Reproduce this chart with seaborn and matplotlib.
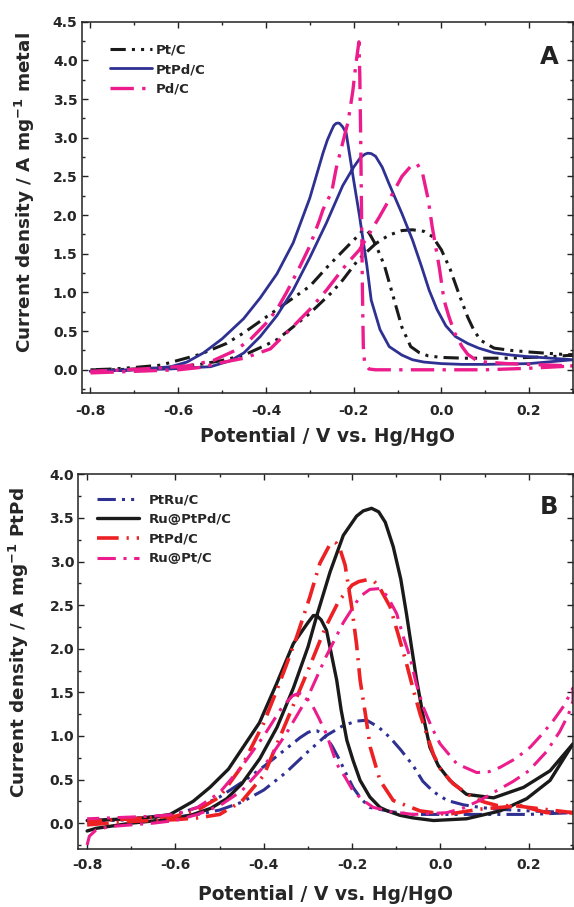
import numpy as np
import pandas as pd
import matplotlib
matplotlib.use("Agg")
import matplotlib.pyplot as plt
import seaborn as sns
from matplotlib.ticker import MultipleLocator, FormatStrFormatter

# ---- panel A: forward scan followed by backward scan ----
a_ptc_x = [-0.80, -0.75, -0.70, -0.65, -0.60, -0.55, -0.50, -0.45, -0.40, -0.375, -0.35, -0.30, -0.25, -0.225,
           -0.19, -0.15, -0.12, -0.09, -0.066, -0.04, -0.02, 0.00, 0.02, 0.04, 0.06, 0.075, 0.09, 0.12, 0.16, 0.20,
           0.25, 0.30,
           0.25, 0.20, 0.15, 0.10, 0.05, 0.00, -0.03, -0.05, -0.07, -0.09, -0.11, -0.13, -0.15, -0.165, -0.172,
           -0.18, -0.187, -0.21, -0.26, -0.30, -0.375, -0.45, -0.49, -0.55, -0.64, -0.70, -0.75, -0.80]
a_ptc_y = [0.00, 0.00, 0.01, 0.02, 0.04, 0.07, 0.12, 0.19, 0.32, 0.39, 0.50, 0.73, 1.00, 1.16,
           1.42, 1.63, 1.74, 1.80, 1.81, 1.79, 1.72, 1.55, 1.30, 0.98, 0.68, 0.50, 0.38, 0.28, 0.25, 0.23,
           0.21, 0.19,
           0.17, 0.16, 0.15, 0.15, 0.15, 0.16, 0.18, 0.22, 0.30, 0.55, 0.95, 1.35, 1.62, 1.77, 1.81,
           1.80, 1.75, 1.62, 1.33, 1.08, 0.78, 0.48, 0.34, 0.20, 0.06, 0.03, 0.01, 0.00]

a_ptpd_x = [-0.80, -0.70, -0.62, -0.56, -0.526, -0.48, -0.45, -0.413, -0.375, -0.338, -0.30, -0.262, -0.225, -0.20,
            -0.185, -0.175, -0.168, -0.16, -0.15, -0.135, -0.119, -0.09, -0.066, -0.045, -0.028, -0.01, 0.01, 0.032,
            0.06, 0.085, 0.12, 0.16, 0.198, 0.25, 0.30,
            0.20, 0.10, 0.047, 0.00, -0.04, -0.066, -0.09, -0.119, -0.14, -0.16, -0.17, -0.187, -0.20, -0.217,
            -0.225, -0.232, -0.236, -0.24, -0.245, -0.25, -0.26, -0.27, -0.30, -0.338, -0.375, -0.413, -0.451,
            -0.50, -0.542, -0.58, -0.617, -0.70, -0.80]
a_ptpd_y = [-0.02, 0.00, 0.01, 0.03, 0.04, 0.12, 0.22, 0.43, 0.70, 1.03, 1.45, 1.90, 2.38, 2.62,
            2.74, 2.785, 2.80, 2.795, 2.76, 2.62, 2.40, 2.02, 1.68, 1.33, 1.03, 0.78, 0.57, 0.43,
            0.34, 0.28, 0.22, 0.19, 0.17, 0.15, 0.13,
            0.08, 0.07, 0.07, 0.08, 0.10, 0.13, 0.19, 0.30, 0.52, 0.90, 1.35, 2.00, 2.45, 3.06,
            3.14, 3.185, 3.19, 3.185, 3.16, 3.10, 2.97, 2.80, 2.22, 1.64, 1.24, 0.93, 0.66,
            0.40, 0.22, 0.10, 0.04, 0.00, -0.02]

a_pdc_x = [-0.80, -0.75, -0.70, -0.65, -0.60, -0.55, -0.504, -0.45, -0.39, -0.338, -0.30, -0.262, -0.217, -0.187,
           -0.16, -0.141, -0.119, -0.09, -0.07, -0.062, -0.055, -0.043, -0.03, -0.021, -0.005, 0.006, 0.017, 0.03,
           0.047, 0.06, 0.078, 0.10, 0.15, 0.20, 0.25, 0.30,
           0.20, 0.10, 0.00, -0.10, -0.15, -0.165, -0.175, -0.178, -0.180, -0.182, -0.184, -0.186, -0.188,
           -0.195, -0.202, -0.213, -0.232, -0.24, -0.25, -0.27, -0.277, -0.30, -0.323, -0.353, -0.375, -0.40,
           -0.436, -0.47, -0.52, -0.58, -0.65, -0.72, -0.80]
a_pdc_y = [-0.04, -0.03, -0.02, -0.01, 0.00, 0.03, 0.09, 0.15, 0.27, 0.56, 0.78, 1.03, 1.36, 1.55,
           1.80, 1.98, 2.20, 2.50, 2.63, 2.66, 2.66, 2.54, 2.20, 1.85, 1.33, 0.90, 0.69, 0.48,
           0.30, 0.20, 0.13, 0.10, 0.08, 0.07, 0.06, 0.05,
           0.02, 0.00, 0.00, 0.00, 0.00, 0.01, 0.08, 0.30, 1.00, 2.00, 3.00, 3.80, 4.24,
           3.95, 3.60, 3.20, 2.78, 2.60, 2.30, 2.07, 1.95, 1.60, 1.33, 1.00, 0.78, 0.60,
           0.39, 0.25, 0.12, 0.05, 0.02, 0.00, -0.02]

# ---- panel B ----
b_ptru_x = [-0.80, -0.70, -0.60, -0.55, -0.50, -0.45, -0.40, -0.35, -0.30, -0.26, -0.22, -0.19, -0.167, -0.14,
            -0.114, -0.09, -0.062, -0.04, -0.016, 0.015, 0.052, 0.09, 0.127, 0.203, 0.30,
            0.20, 0.10, 0.00, -0.062, -0.11, -0.16, -0.18, -0.198, -0.213, -0.228, -0.245, -0.258, -0.27, -0.28,
            -0.29, -0.30, -0.318, -0.35, -0.40, -0.44, -0.50, -0.55, -0.60, -0.70, -0.80]
b_ptru_y = [0.02, 0.04, 0.07, 0.10, 0.15, 0.24, 0.38, 0.58, 0.82, 1.00, 1.12, 1.17, 1.18, 1.10,
            0.98, 0.84, 0.66, 0.48, 0.36, 0.26, 0.21, 0.18, 0.16, 0.14, 0.12,
            0.10, 0.10, 0.10, 0.10, 0.13, 0.18, 0.28, 0.41, 0.56, 0.72, 0.88, 0.98, 1.03, 1.06,
            1.06, 1.04, 0.98, 0.85, 0.65, 0.50, 0.30, 0.18, 0.10, 0.05, 0.03]

b_rupt_pd_x = [-0.80, -0.78, -0.70, -0.60, -0.56, -0.52, -0.484, -0.45, -0.409, -0.37, -0.333, -0.30, -0.28, -0.25,
               -0.22, -0.19, -0.175, -0.156, -0.14, -0.125, -0.107, -0.09, -0.077, -0.065, -0.054, -0.04, -0.024,
               -0.005, 0.021, 0.059, 0.12, 0.188, 0.248, 0.30,
               0.248, 0.195, 0.135, 0.059, -0.016, -0.062, -0.092, -0.12, -0.137, -0.16, -0.182, -0.198, -0.212,
               -0.225, -0.235, -0.258, -0.27, -0.28, -0.288, -0.30, -0.333, -0.371, -0.41, -0.447, -0.48, -0.522,
               -0.56, -0.612, -0.65, -0.70, -0.75, -0.80]
b_rupt_pd_y = [-0.09, -0.06, 0.00, 0.05, 0.10, 0.17, 0.28, 0.45, 0.74, 1.10, 1.55, 2.02, 2.38, 2.88,
               3.30, 3.52, 3.58, 3.61, 3.57, 3.45, 3.17, 2.80, 2.40, 2.00, 1.64, 1.25, 0.87,
               0.66, 0.49, 0.33, 0.29, 0.41, 0.60, 0.91,
               0.49, 0.28, 0.14, 0.05, 0.03, 0.06, 0.09, 0.14, 0.18, 0.30, 0.49, 0.72, 0.95,
               1.30, 1.64, 2.21, 2.33, 2.38, 2.38, 2.30, 2.06, 1.60, 1.15, 0.87, 0.62, 0.41,
               0.25, 0.10, 0.07, 0.05, 0.04, 0.03]

b_ptpd_x = [-0.80, -0.75, -0.70, -0.60, -0.55, -0.50, -0.45, -0.40, -0.35, -0.30, -0.26, -0.23, -0.20, -0.185,
            -0.167, -0.15, -0.14, -0.114, -0.095, -0.077, -0.06, -0.046, -0.03, -0.016, 0.00, 0.029, 0.074, 0.10,
            0.13, 0.17, 0.20, 0.25, 0.30,
            0.24, 0.18, 0.089, 0.014, -0.046, -0.107, -0.137, -0.159, -0.17, -0.182, -0.19, -0.201, -0.216,
            -0.228, -0.236, -0.24, -0.245, -0.25, -0.273, -0.296, -0.326, -0.35, -0.371, -0.40, -0.45, -0.50,
            -0.55, -0.60, -0.70, -0.80]
b_ptpd_y = [-0.02, 0.00, 0.02, 0.04, 0.06, 0.10, 0.25, 0.55, 1.15, 1.75, 2.25, 2.55, 2.73, 2.77,
            2.79, 2.77, 2.72, 2.48, 2.15, 1.83, 1.50, 1.25, 1.00, 0.79, 0.62, 0.45, 0.29, 0.24,
            0.20, 0.20, 0.18, 0.15, 0.12,
            0.12, 0.20, 0.16, 0.10, 0.14, 0.26, 0.49, 0.87, 1.25, 1.64, 2.05, 2.48, 2.96,
            3.15, 3.21, 3.22, 3.22, 3.20, 2.98, 2.59, 2.13, 1.80, 1.52, 1.15, 0.65, 0.30,
            0.15, 0.08, 0.05, 0.02]

b_rupt_x = [-0.80, -0.795, -0.78, -0.75, -0.70, -0.65, -0.60, -0.55, -0.50, -0.45, -0.40, -0.35, -0.30, -0.26,
            -0.22, -0.182, -0.16, -0.137, -0.12, -0.099, -0.085, -0.069, -0.055, -0.039, -0.02, -0.001, 0.037,
            0.082, 0.11, 0.135, 0.17, 0.203, 0.23, 0.256, 0.28, 0.30,
            0.30, 0.29, 0.27, 0.24, 0.20, 0.165, 0.13, 0.089, 0.05, 0.014, -0.062, -0.11, -0.152, -0.175, -0.198,
            -0.215, -0.235, -0.258, -0.275, -0.288, -0.305, -0.32, -0.335, -0.36, -0.40, -0.45, -0.50, -0.55,
            -0.60, -0.65, -0.70, -0.75, -0.80]
b_rupt_y = [-0.25, -0.15, -0.08, -0.04, -0.02, 0.00, 0.03, 0.10, 0.20, 0.37, 0.65, 1.02, 1.45, 1.90,
            2.30, 2.60, 2.68, 2.69, 2.60, 2.40, 2.15, 1.90, 1.60, 1.33, 1.10, 0.91, 0.68,
            0.58, 0.59, 0.64, 0.74, 0.87, 1.02, 1.18, 1.35, 1.55,
            1.40, 1.25, 1.05, 0.82, 0.60, 0.48, 0.38, 0.26, 0.17, 0.12, 0.10, 0.13, 0.18, 0.26, 0.37,
            0.52, 0.68, 1.02, 1.20, 1.33, 1.45, 1.49, 1.46, 1.32, 1.00, 0.65, 0.35, 0.18,
            0.10, 0.08, 0.07, 0.06, 0.05]

x_ticks = [-0.8, -0.6, -0.4, -0.2, 0.0, 0.2]

black = "#1a1a1a"
blue = "#2e3192"
pink = "#ec1c8c"
red = "#ed2024"

sns.set_theme(style="ticks")
plt.rcParams['font.family'] = ['DejaVu Sans']
plt.rcParams['font.weight'] = 'bold'
plt.rcParams['mathtext.default'] = 'bf'

fig = plt.figure(figsize=(5.74, 9.07), dpi=100)
axA = fig.add_axes([81.7 / 574, 1 - 393 / 907, (573 - 81.7) / 574, (393 - 21.7) / 907])
axB = fig.add_axes([78.3 / 574, 1 - 849.3 / 907, (573 - 78.3) / 574, (849.3 - 474.3) / 907])

def curve(ax, xs, ys, color, ls, lw, label):
    sns.lineplot(x=xs, y=ys, sort=False, estimator=None, ax=ax, color=color,
                 linestyle=ls, linewidth=lw, label=label)

curve(axA, a_ptc_x, a_ptc_y, black, (0, (5, 2, 1, 2, 1, 2)), 2.2, "Pt/C")
curve(axA, a_ptpd_x, a_ptpd_y, blue, "-", 2.0, "PtPd/C")
curve(axA, a_pdc_x, a_pdc_y, pink, (0, (7, 2.5, 1, 2.5)), 2.4, "Pd/C")

curve(axB, b_ptru_x, b_ptru_y, blue, (0, (6, 2, 1, 2, 1, 2)), 2.2, "PtRu/C")
curve(axB, b_rupt_pd_x, b_rupt_pd_y, black, "-", 2.4, "Ru@PtPd/C")
curve(axB, b_ptpd_x, b_ptpd_y, red, (0, (6, 2.2, 0.6, 2.2)), 2.6, "PtPd/C")
curve(axB, b_rupt_x, b_rupt_y, pink, (0, (6, 2.5, 1, 2.5)), 2.2, "Ru@Pt/C")

for ax, ylim, ylabel, letter, xpad, lx, ly in [
        (axA, (-0.3, 4.5), "Current density / A mg$^{-1}$ metal", "A", 8, 0.0575, 0.9415),
        (axB, (-0.3, 4.0), "Current density / A mg$^{-1}$ PtPd", "B", 6, 0.037, 0.949)]:
    ax.set_xlim(-0.82, 0.3)
    ax.set_ylim(*ylim)
    ax.set_xticks(x_ticks)
    ax.xaxis.set_minor_locator(MultipleLocator(0.1))
    ax.yaxis.set_major_locator(MultipleLocator(0.5))
    ax.yaxis.set_minor_locator(MultipleLocator(0.25))
    ax.xaxis.set_major_formatter(FormatStrFormatter('%.1f'))
    ax.yaxis.set_major_formatter(FormatStrFormatter('%.1f'))
    ax.tick_params(which='both', direction='in', top=True, right=True, width=1.0, color='#222222')
    ax.tick_params(which='major', length=4)
    ax.tick_params(which='minor', length=2.5)
    ax.tick_params(axis='x', which='major', pad=xpad, labelsize=10)
    ax.tick_params(axis='y', which='major', pad=3, labelsize=10)
    for s in ax.spines.values():
        s.set_linewidth(1.1)
        s.set_color('#222222')
    ax.set_xlabel("Potential / V vs. Hg/HgO", fontsize=13.5, fontweight='bold')
    ax.set_ylabel(ylabel, fontsize=13.2, fontweight='bold')
    ax.yaxis.label.set_va('center')
    ax.xaxis.label.set_va('center')
    ax.text(0.951, 0.905 if letter == "A" else 0.914, letter, transform=ax.transAxes, fontsize=17.5,
            fontweight='bold', ha='center', va='center', color='#222222')
    ax.legend(loc='upper left', bbox_to_anchor=(lx, ly), frameon=False, borderpad=0, borderaxespad=0,
              handlelength=3.2, handletextpad=0.25 if letter == "A" else 0.75,
              labelspacing=0.5, prop={'weight': 'bold', 'size': 9.5})

axA.xaxis.set_label_coords(0.5, (393 - 437) / 371.3)
axB.xaxis.set_label_coords(0.5, (849.3 - 895) / 375)
axA.yaxis.set_label_coords(-0.115, (393 - 193) / 371.3)
axB.yaxis.set_label_coords(-0.12, (849.3 - 643) / 375)

fig.savefig("out.png", dpi=100)
